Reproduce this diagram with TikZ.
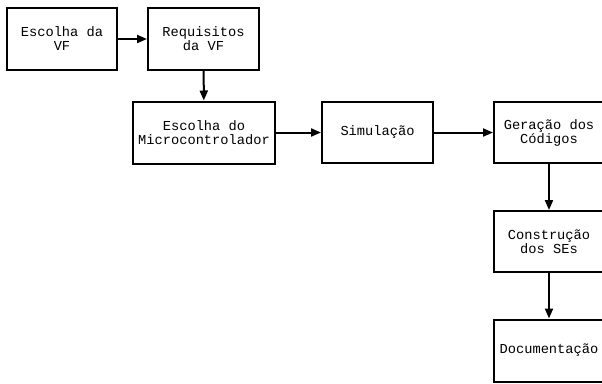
\documentclass[tikz,border=0pt]{standalone}
\usepackage{fontspec}
\setmonofont{Liberation Mono}
\usetikzlibrary{arrows.meta}
\tikzset{
  stagebox/.style={draw, line width=2pt, minimum height=62pt, inner sep=0pt,
    align=center, font=\ttfamily\fontsize{13.7}{14}\selectfont},
  flow/.style={line width=2pt, -{Triangle[length=10pt,width=8pt]}}
}
\begin{document}
\begin{tikzpicture}[x=1pt,y=-1pt]
  \useasboundingbox (0,0) rectangle (602,383);
  \node[stagebox, minimum width=110pt] (vf)   at (62,39)   {Escolha da\\VF};
  \node[stagebox, minimum width=111pt] (req)  at (203.5,39) {Requisitos\\da VF};
  \node[stagebox, minimum width=142pt] (mcu)  at (204,132.5) {Escolha do\\Microcontrolador};
  \node[stagebox, minimum width=111pt, minimum height=61pt] (sim) at (377.5,132.5) {Simulação};
  \node[stagebox, minimum width=110pt, minimum height=61pt] (cod) at (549,132.5) {Geração dos\\Códigos};
  \node[stagebox, minimum width=110pt, minimum height=61pt] (se)  at (549,241.5) {Construção\\dos SEs};
  \node[stagebox, minimum width=110pt, minimum height=62pt] (doc) at (549,350.5) {Documentação};
  \draw[flow] (vf) -- (req);
  \draw[flow] (req) -- (mcu);
  \draw[flow] (mcu) -- (sim);
  \draw[flow] (sim) -- (cod);
  \draw[flow] (cod) -- (se);
  \draw[flow] (se) -- (doc);
\end{tikzpicture}
\end{document}
